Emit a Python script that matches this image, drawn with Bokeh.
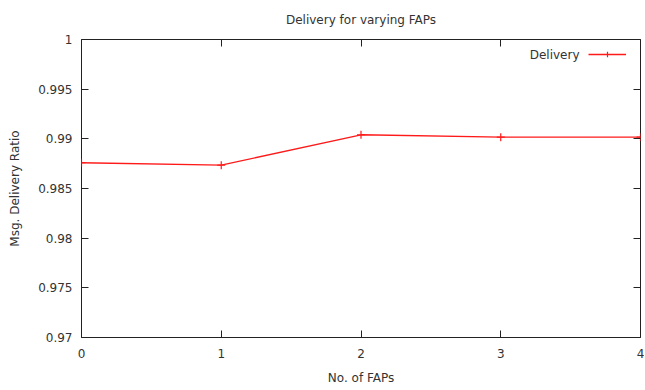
from bokeh.plotting import figure
from bokeh.models import (Range1d, FixedTicker, LinearAxis, Legend, LegendItem, Label,
                          CustomJSTickFormatter)
from bokeh.embed import file_html
from bokeh.resources import INLINE

# ---- data ----
title_text = "Delivery for varying FAPs"
x_label = "No. of FAPs"
y_label = "Msg. Delivery Ratio"
series_name = "Delivery"
faps = [0, 1, 2, 3, 4]
delivery = [0.98759, 0.98735, 0.99041, 0.99017, 0.99017]
x_ticks = [0, 1, 2, 3, 4]
y_ticks = [0.97, 0.975, 0.98, 0.985, 0.99, 0.995, 1.0]
y_tick_labels = ["0.97", "0.975", "0.98", "0.985", "0.99", "0.995", "1"]

FONT = "DejaVu Sans"
TXT = "#333333"
FS = "12px"

p = figure(output_backend="svg", toolbar_location=None,
           width=644, height=388,
           min_border_left=81, min_border_right=4,
           min_border_top=39, min_border_bottom=51,
           x_range=Range1d(0, 4), y_range=Range1d(0.97, 1.0),
           background_fill_color="white", border_fill_color="white")
p.xgrid.visible = False
p.ygrid.visible = False
p.outline_line_color = "#222222"
p.outline_line_width = 1

p.title.text = title_text
p.title.text_font = FONT
p.title.text_font_size = FS
p.title.text_font_style = "normal"
p.title.text_color = TXT
p.title.align = "center"
p.title.standoff = 21
p.title.vertical_align = "top"

def style_axis(ax, ticks, labels=True):
    ax.ticker = FixedTicker(ticks=ticks)
    ax.major_tick_in = 7
    ax.major_tick_out = 0
    ax.minor_tick_in = 0
    ax.minor_tick_out = 0
    ax.major_tick_line_color = "#222222"
    ax.axis_line_color = None
    ax.major_label_text_font = FONT
    ax.major_label_text_font_size = FS
    ax.major_label_text_color = TXT
    ax.axis_label_text_font = FONT
    ax.axis_label_text_font_size = FS
    ax.axis_label_text_font_style = "normal"
    ax.axis_label_text_color = TXT
    if not labels:
        ax.formatter = CustomJSTickFormatter(code="return ''")
        ax.major_label_standoff = 0
        ax.axis_label_standoff = 0

xa = p.xaxis[0]
ya = p.yaxis[0]
style_axis(xa, x_ticks)
style_axis(ya, y_ticks)
xa.axis_label = x_label
xa.major_label_standoff = 11
xa.axis_label_standoff = 10
ya.axis_label = y_label
ya.major_label_standoff = 9
ya.axis_label_standoff = 13
ya.major_label_overrides = {t: l for t, l in zip(y_ticks, y_tick_labels)}

top = LinearAxis()
p.add_layout(top, "above")
style_axis(top, x_ticks, labels=False)
right = LinearAxis()
p.add_layout(right, "right")
style_axis(right, y_ticks, labels=False)

RED = "#ff1a1a"
line_r = p.line(faps, delivery, line_color=RED, line_width=1.3)
mark_r = p.scatter(faps, delivery, marker="cross", size=8, line_color=RED, line_width=1.2)

legend = Legend(items=[LegendItem(label=" ", renderers=[line_r, mark_r])],
                location=(507, 276), padding=0, margin=0, spacing=0,
                glyph_width=38, glyph_height=14, label_height=14, label_width=1,
                label_standoff=0, border_line_alpha=0, background_fill_alpha=0,
                label_text_font=FONT, label_text_font_size=FS)
p.add_layout(legend, "center")
p.add_layout(Label(x=498, y=283, x_units="screen", y_units="screen",
                   text=series_name, text_align="right", text_baseline="middle",
                   text_font=FONT, text_font_size=FS, text_color=TXT))

open("out.html", "w").write(file_html(p, INLINE))
